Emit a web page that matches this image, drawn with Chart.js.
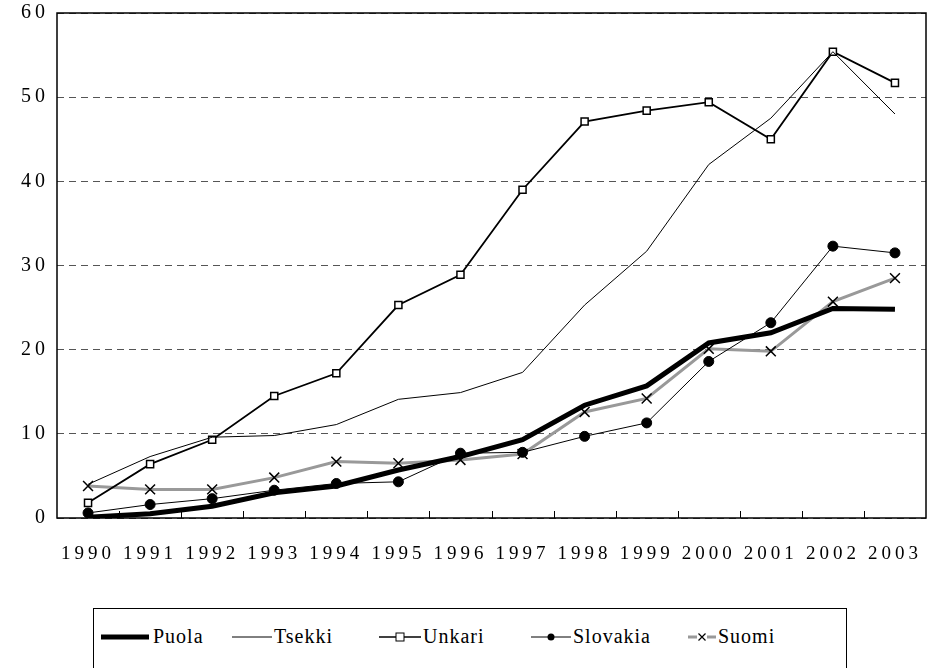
<!DOCTYPE html>
<html>
<head>
<meta charset="utf-8">
<script src="https://cdn.jsdelivr.net/npm/chart.js@4.4.1/dist/chart.umd.min.js"></script>
<style>
  html, body { margin: 0; padding: 0; background: #fff; overflow: hidden; }
  #wrap { position: relative; width: 927px; height: 668px; }
  #chart { position: absolute; left: 0; top: 0; }
  #legend {
    position: absolute; left: 93px; top: 608px; width: 754px; height: 90px;
    border: 1px solid #000; box-sizing: border-box;
    font-size: 20px; color: #000;
  }
  .item { position: absolute; top: 16px; display: flex; align-items: center; letter-spacing: 1px; }
  .item svg { display: block; margin-right: 2px; }
</style>
</head>
<body>
<div id="wrap">
  <canvas id="chart" width="927" height="585"></canvas>
  <div id="legend"></div>
</div>
<script>
// ─── データ ─────────────────────────────
const years = ['1990','1991','1992','1993','1994','1995','1996','1997','1998','1999','2000','2001','2002','2003'];
const puola    = [0.1, 0.5, 1.4, 3.0, 3.8, 5.7, 7.3, 9.3, 13.4, 15.7, 20.8, 22.0, 24.9, 24.8];
const tsekki   = [4.0, 7.3, 9.6, 9.8, 11.1, 14.1, 14.9, 17.3, 25.3, 31.7, 42.0, 47.5, 55.4, 48.0];
const unkari   = [1.8, 6.4, 9.3, 14.5, 17.2, 25.3, 28.9, 39.0, 47.1, 48.4, 49.4, 45.0, 55.4, 51.7];
const slovakia = [0.6, 1.6, 2.3, 3.3, 4.1, 4.3, 7.7, 7.8, 9.7, 11.3, 18.6, 23.2, 32.3, 31.5];
const suomi    = [3.8, 3.4, 3.4, 4.8, 6.7, 6.5, 6.9, 7.6, 12.6, 14.2, 20.1, 19.8, 25.7, 28.5];
const yTicks   = [0, 10, 20, 30, 40, 50, 60];

const serif = '"Liberation Serif", "Liberation Sans", sans-serif';

// 枠線とx軸の内向き目盛り
const framePlugin = {
  id: 'frame',
  beforeDraw(chart) { chart.ctx.letterSpacing = '4px'; },
  afterDraw(chart) {
    const { ctx, chartArea: a } = chart;
    const xs = chart.scales.x;
    ctx.save();
    ctx.setLineDash([]);
    ctx.strokeStyle = '#000';
    ctx.lineWidth = 1.5;
    ctx.strokeRect(a.left, a.top, a.right - a.left, a.bottom - a.top);
    ctx.lineWidth = 1;
    for (let i = 1; i < years.length; i++) {
      const x = Math.round((xs.getPixelForValue(i - 1) + xs.getPixelForValue(i)) / 2) + 0.5;
      ctx.beginPath();
      ctx.moveTo(x, a.bottom);
      ctx.lineTo(x, a.bottom - 7);
      ctx.stroke();
    }
    ctx.restore();
  }
};

new Chart(document.getElementById('chart'), {
  type: 'line',
  data: {
    labels: years,
    datasets: [
      { label: 'Puola', data: puola, borderColor: '#000', borderWidth: 5, pointRadius: 0 },
      { label: 'Tsekki', data: tsekki, borderColor: '#000', borderWidth: 1, pointRadius: 0 },
      { label: 'Unkari', data: unkari, borderColor: '#000', borderWidth: 1.8, pointStyle: 'rect',
        pointRadius: 5, pointBackgroundColor: '#fff', pointBorderColor: '#000', pointBorderWidth: 1.5 },
      { label: 'Slovakia', data: slovakia, borderColor: '#000', borderWidth: 1, pointStyle: 'circle',
        pointRadius: 5, pointBackgroundColor: '#000', pointBorderColor: '#000' },
      { label: 'Suomi', data: suomi, borderColor: '#999', borderWidth: 3, pointStyle: 'crossRot',
        pointRadius: 7, pointBorderColor: '#000', pointBorderWidth: 1.5 }
    ]
  },
  options: {
    responsive: false,
    animation: false,
    events: [],
    layout: { autoPadding: false, padding: { top: 13, right: 1, bottom: 10, left: 0 } },
    plugins: { legend: { display: false }, tooltip: { enabled: false } },
    scales: {
      x: {
        offset: true,
        grid: { display: false },
        border: { display: false },
        afterFit(scale) { scale.height = 57; scale.paddingLeft = 0; scale.paddingRight = 0; },
        ticks: { color: '#000', font: { family: serif, size: 19 }, padding: 17, maxRotation: 0, autoSkip: false }
      },
      y: {
        min: 0, max: 60,
        afterBuildTicks(scale) { scale.ticks = yTicks.map(v => ({ value: v })); },
        afterFit(scale) { scale.width = 57; scale.paddingTop = 0; scale.paddingBottom = 0; },
        grid: { color: '#555', lineWidth: 1, drawTicks: false },
        border: { display: false, dash: [7, 5] },
        ticks: { color: '#000', font: { family: serif, size: 20 }, padding: 8 }
      }
    }
  },
  plugins: [framePlugin]
});

// ─── 凡例 (HTML) ─────────────────────────
const legendItems = [
  { text: 'Puola', left: 5, svg: '<svg width="52" height="20"><line x1="2" y1="10" x2="50" y2="10" stroke="#000" stroke-width="5"/></svg>' },
  { text: 'Tsekki', left: 138, svg: '<svg width="40" height="20"><line x1="0" y1="10" x2="40" y2="10" stroke="#000" stroke-width="1"/></svg>' },
  { text: 'Unkari', left: 285, svg: '<svg width="42" height="20"><line x1="0" y1="10" x2="42" y2="10" stroke="#000" stroke-width="1.5"/><rect x="17" y="6" width="8" height="8" fill="#fff" stroke="#000" stroke-width="1"/></svg>' },
  { text: 'Slovakia', left: 437, svg: '<svg width="40" height="20"><line x1="0" y1="10" x2="40" y2="10" stroke="#000" stroke-width="1"/><circle cx="20" cy="10" r="3.5" fill="#000"/></svg>' },
  { text: 'Suomi', left: 594, svg: '<svg width="28" height="20"><line x1="0" y1="10" x2="28" y2="10" stroke="#999" stroke-width="3"/><rect x="9" y="5" width="10" height="10" fill="#fff"/><path d="M10.5 6.5 L17.5 13.5 M17.5 6.5 L10.5 13.5" stroke="#000" stroke-width="1.2"/></svg>' }
];
const legend = document.getElementById('legend');
legend.style.fontFamily = serif;
legendItems.forEach(it => {
  const d = document.createElement('div');
  d.className = 'item';
  d.style.left = it.left + 'px';
  d.innerHTML = it.svg + '<span>' + it.text + '</span>';
  legend.appendChild(d);
});
</script>
</body>
</html>
